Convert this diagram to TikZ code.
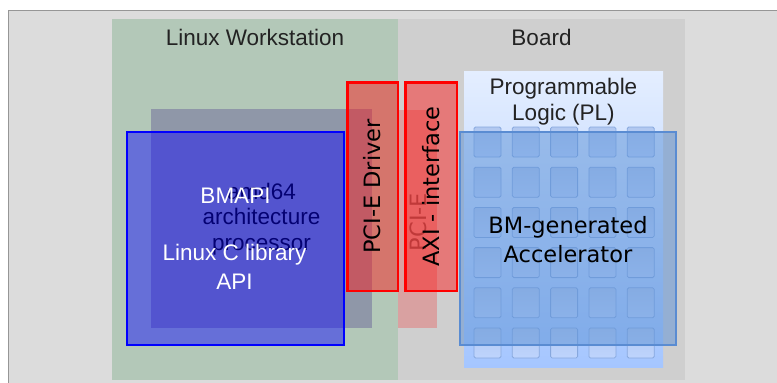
\documentclass[tikz,border=0pt]{standalone}
\usepackage{fontspec}
\setmainfont{Liberation Sans}
\newfontfamily\dejavu{DejaVu Sans}
\definecolor{pagebg}{RGB}{220,220,220}
\definecolor{framegray}{RGB}{150,150,150}
\definecolor{wsgreen}{RGB}{179,200,184}
\definecolor{boardgray}{RGB}{207,207,207}
\definecolor{cpugray}{RGB}{143,151,168}
\definecolor{pciepale}{RGB}{217,161,161}
\definecolor{pcietext}{RGB}{140,90,90}
\definecolor{redfill}{RGB}{255,20,20}
\definecolor{bluefill}{RGB}{10,4,255}
\definecolor{plTop}{RGB}{228,238,255}
\definecolor{plBottom}{RGB}{165,198,255}
\definecolor{cellTop}{RGB}{178,200,240}
\definecolor{cellBottom}{RGB}{190,212,253}
\definecolor{cellEdge}{RGB}{135,168,222}
\definecolor{accfill}{RGB}{90,145,215}
\definecolor{accedge}{RGB}{90,140,210}
\definecolor{darktext}{RGB}{35,35,35}
\begin{document}
\begin{tikzpicture}[x=1pt,y=-1pt,
  box/.style={rectangle, inner sep=0pt, outer sep=0pt},
  plain/.style={inner sep=0pt, outer sep=0pt, align=center,
    font=\fontsize{22.5}{25.5}\selectfont},
  wide/.style={inner sep=0pt, outer sep=0pt, align=center,
    font=\dejavu\fontsize{22.5}{28.5}\selectfont},
  redbox/.style={box, draw=red, line width=2.5pt, fill=redfill, fill opacity=0.46},
  cell/.style={box, minimum width=27pt, minimum height=30pt, rounded corners=1.5pt,
    top color=cellTop, bottom color=cellBottom, draw=cellEdge, line width=0.8pt}
]
\useasboundingbox (0,0) rectangle (777,383);

% page and frame
\fill[white] (0,0) rectangle (777,383);
\fill[pagebg] (8,10) rectangle (777,383);
\draw[framegray, line width=1pt] (8,383) -- (8,10) -- (777,10);

% host and board areas
\node[box, fill=wsgreen, minimum width=286pt, minimum height=361pt] (ws) at (255,199.5) {};
\node[box, fill=boardgray, minimum width=287pt, minimum height=361pt] (board) at (541.5,199.5) {};
\node[plain, text=darktext] (wslbl) at (255,37) {Linux Workstation};
\node[plain, text=darktext] (boardlbl) at (541.5,37) {Board};

% processor
\node[box, fill=cpugray, minimum width=221pt, minimum height=219pt] (cpu) at (261.5,218.5) {};
\node[plain, text=black] (cpulbl) at (261.5,219) {amd64\\architecture\\processor};

% board-side PCI-E block
\node[box, fill=pciepale, minimum width=39pt, minimum height=218pt] (pcie) at (417.5,219) {};
\node[wide, text=pcietext, rotate=90] (pcielbl) at (418,222) {PCI-E};

% programmable logic with its cell grid
\node[box, top color=plTop, bottom color=plBottom, minimum width=199pt, minimum height=296pt] (pl) at (563.5,219) {};
\node[plain, text=darktext, font=\fontsize{22.5}{26}\selectfont] (pllbl) at (563.5,102) {Programmable\\Logic (PL)};
\foreach \i in {0,...,4}
  \foreach \j in {0,...,5}
    \node[cell] (c\i\j) at (487.5+38.3*\i, 142+40.2*\j) {};

% software stack
\node[box, draw=blue, line width=2.5pt, fill=bluefill, fill opacity=0.45,
  minimum width=217pt, minimum height=213pt] (bmapi) at (235.5,238.5) {};
\node[plain, text=white] (bmapilbl) at (235.5,196) {BMAPI};
\node[plain, text=white, font=\fontsize{22.5}{29}\selectfont] (libc) at (234.5,267) {Linux C library\\API};

% driver and interface
\node[redbox, minimum width=50.5pt, minimum height=208.5pt] (driver) at (372.5,186.5) {};
\node[wide, rotate=90] (driverlbl) at (372.5,186.5) {PCI-E Driver};
\node[redbox, minimum width=51.5pt, minimum height=208.5pt] (axi) at (431,186.5) {};
\node[wide, rotate=90] (axilbl) at (431,186.5) {AXI - interface};

% accelerator
\node[box, draw=accedge, line width=2pt, fill=accfill, fill opacity=0.5,
  minimum width=216pt, minimum height=213pt] (acc) at (568,238.5) {};
\node[wide, text=black] (acclbl) at (568,239.5) {BM-generated\\Accelerator};
\end{tikzpicture}
\end{document}
